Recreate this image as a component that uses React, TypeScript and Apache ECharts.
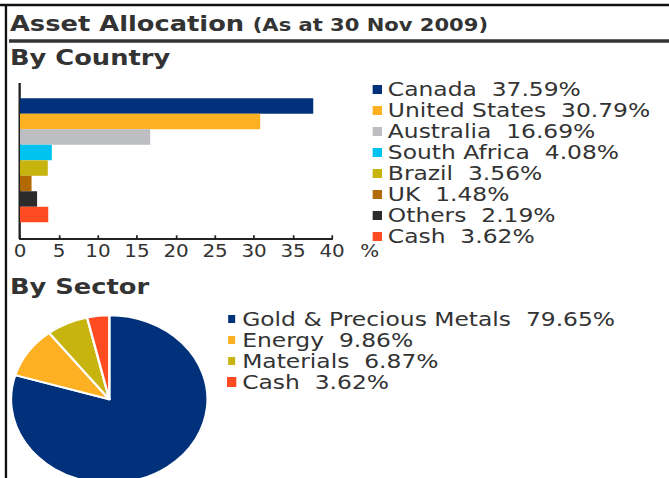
import React, { useEffect, useRef } from "react";
import * as echarts from "echarts";

// ---- data ----
const countries = ["Canada", "United States", "Australia", "South Africa", "Brazil", "UK", "Others", "Cash"];
const countryValues = [37.59, 30.79, 16.69, 4.08, 3.56, 1.48, 2.19, 3.62];
const countryColors = ["#00317A", "#FDB022", "#BDBEC2", "#00C3F0", "#C7B40F", "#B26A05", "#2B2B2B", "#FF4B21"];

const sectors = ["Gold & Precious Metals", "Energy", "Materials", "Cash"];
const sectorValues = [79.65, 9.86, 6.87, 3.62];
const sectorColors = ["#00317A", "#FDB022", "#C7B40F", "#FF4B21"];

const xMin = 0;
const xMax = 40;
const xInterval = 5;

const titleMain = "Asset Allocation";
const titleSub = "(As at 30 Nov 2009)";
const headCountry = "By Country";
const headSector = "By Sector";

// ---- layout (the original picture is horizontally stretched) ----
const H = 478;
const FULL_W = 669;
const S = 1.17;
const W = FULL_W / S;
const FONT = "DejaVu Sans";
const TXT = "#333";

function buildOption(): any {
  const barSeries = countries.map((name, i) => ({
    type: "bar",
    name,
    stack: "country",
    barCategoryGap: "0%",
    xAxisIndex: 0,
    yAxisIndex: 0,
    itemStyle: { color: countryColors[i] },
    emphasis: { disabled: true },
    data: countries.map((_, j) => (j === i ? countryValues[i] : null)),
  }));

  const pieSeries = {
    type: "pie",
    name: "Sector",
    center: [93.4, 399.3],
    radius: 84,
    startAngle: 90,
    clockwise: true,
    label: { show: false },
    labelLine: { show: false },
    emphasis: { disabled: true },
    itemStyle: { borderColor: "#fff", borderWidth: 2 },
    data: sectors.map((name, i) => ({
      name,
      value: sectorValues[i],
      itemStyle: { color: sectorColors[i] },
    })),
  };

  const legendText = { fontSize: 20, color: TXT, fontFamily: FONT, lineHeight: 21 };

  return {
    animation: false,
    textStyle: { fontFamily: FONT },
    grid: { left: 17.1, top: 98.3, width: 266.7, height: 124, containLabel: false },
    xAxis: {
      type: "value",
      min: xMin,
      max: xMax,
      interval: xInterval,
      offset: 16,
      axisLine: { show: true, lineStyle: { color: "#222", width: 2 } },
      axisTick: { show: true, inside: true, length: 3, lineStyle: { color: "#222", width: 1.5 } },
      splitLine: { show: false },
      axisLabel: { fontSize: 17, color: TXT, margin: 4, fontFamily: FONT },
      name: "%",
      nameLocation: "end",
      nameGap: 24,
      nameTextStyle: { fontSize: 17, color: TXT, fontFamily: FONT, verticalAlign: "top", padding: [4, 0, 0, 0] },
    },
    yAxis: {
      type: "category",
      inverse: true,
      data: countries,
      axisLine: { show: false },
      axisTick: { show: false },
      axisLabel: { show: false },
      splitLine: { show: false },
    },
    legend: [
      {
        orient: "vertical",
        left: 318.5,
        top: 79,
        padding: 0,
        itemGap: 0,
        itemWidth: 8,
        itemHeight: 9,
        icon: "rect",
        selectedMode: false,
        data: countries,
        formatter: (n: string) => `${n}  ${countryValues[countries.indexOf(n)].toFixed(2)}%`,
        textStyle: legendText,
      },
      {
        orient: "vertical",
        left: 193,
        top: 308.5,
        padding: 0,
        itemGap: 0,
        itemWidth: 8,
        itemHeight: 10,
        icon: "rect",
        selectedMode: false,
        data: sectors,
        formatter: (n: string) => `${n}  ${sectorValues[sectors.indexOf(n)].toFixed(2)}%`,
        textStyle: legendText,
      },
    ],
    graphic: [
      { type: "line", shape: { x1: 0, y1: 5, x2: W, y2: 5 }, style: { stroke: "#111", lineWidth: 2.5 } },
      { type: "line", shape: { x1: 5.1, y1: 4, x2: 5.1, y2: H }, style: { stroke: "#111", lineWidth: 2 } },
      { type: "line", shape: { x1: 7.7, y1: 41, x2: W, y2: 41 }, style: { stroke: "#333", lineWidth: 3.5 } },
      { type: "line", shape: { x1: 16.8, y1: 83, x2: 16.8, y2: 239 }, style: { stroke: "#222", lineWidth: 2 } },
      {
        type: "text",
        x: 8.5,
        y: 23.3,
        style: { text: titleMain, fontSize: 22, fontWeight: "bold", fontFamily: FONT, fill: TXT, verticalAlign: "middle", align: "left" },
      },
      {
        type: "text",
        x: 216,
        y: 25,
        style: { text: titleSub, fontSize: 18, fontWeight: "bold", fontFamily: FONT, fill: TXT, verticalAlign: "middle", align: "left" },
      },
      {
        type: "text",
        x: 8.5,
        y: 58,
        style: { text: headCountry, fontSize: 22, fontWeight: "bold", fontFamily: FONT, fill: TXT, verticalAlign: "middle", align: "left" },
      },
      {
        type: "text",
        x: 8.5,
        y: 286.5,
        style: { text: headSector, fontSize: 22, fontWeight: "bold", fontFamily: FONT, fill: TXT, verticalAlign: "middle", align: "left" },
      },
    ],
    series: [...barSeries, pieSeries],
  };
}

export default function App() {
  const ref = useRef<HTMLDivElement>(null);
  useEffect(() => {
    if (!ref.current) return;
    const chart = echarts.init(ref.current, null, { renderer: "svg", width: W, height: H });
    chart.setOption(buildOption());
    return () => chart.dispose();
  }, []);
  return (
    <div
      ref={ref}
      style={{
        position: "absolute",
        left: 0,
        top: 0,
        width: W,
        height: H,
        background: "#fff",
        transform: `scaleX(${S})`,
        transformOrigin: "0 0",
      }}
    />
  );
}
